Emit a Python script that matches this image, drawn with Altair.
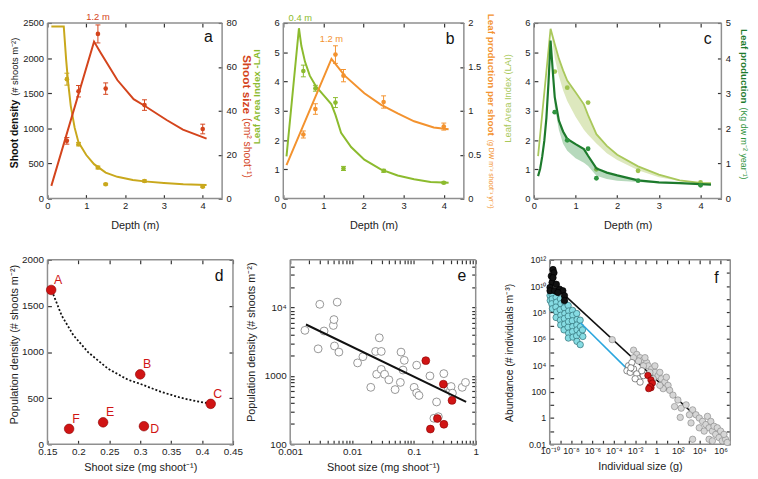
import altair as alt
import pandas as pd

FONT = "Liberation Sans"
ONE = pd.DataFrame({"k": [0]})

# ---------------- colours ----------------
GOLD = "#C9A81C"
RUST = "#D4441C"
LIME = "#8CBB2E"
ORANGE = "#F3922E"
PALE = "#A9C85B"
DKGREEN = "#1D7A2C"
PTGREEN = "#2F9440"
RED = "#D01414"
FRAME = "#8F8F8F"

# ---------------- panel a ----------------
A_DEPTH = [0.5, 0.8, 1.3, 1.5, 2.5, 4.0]
A_DENSITY = [1700, 775, 442, 205, 250, 170]
A_DENSITY_ERR = [85, 25, 20, 12, 15, 10]
A_SIZE = [26.3, 48.9, 75.0, 50.1, 42.6, 31.7]
A_SIZE_ERR = [1.5, 2.6, 4.1, 2.6, 2.4, 2.2]
A_DLINE_X = [0.1, 0.42, 0.48, 0.53, 0.6, 0.7, 0.8, 1.0, 1.2, 1.5, 1.8, 2.2, 2.5, 3.0, 3.5, 4.1]
A_DLINE_Y = [2450, 2450, 1985, 1665, 1320, 1010, 800, 620, 490, 370, 310, 265, 245, 222, 205, 195]
A_SLINE_X = [0.1, 1.2, 1.37, 1.8, 2.22, 2.5, 3.07, 3.49, 4.1]
A_SLINE_Y = [5.8, 71.5, 66.4, 54.0, 45.3, 42.3, 35.8, 31.4, 27.3]

# ---------------- panel b ----------------
B_LAI = [4.36, 3.77, 3.28, 1.03, 0.95, 0.54]
B_LAI_ERR = [0.2, 0.1, 0.17, 0.07, 0.05, 0.03]
B_PROD = [0.73, 1.02, 1.64, 1.40, 1.10, 0.82]
B_PROD_ERR = [0.04, 0.06, 0.1, 0.07, 0.07, 0.04]
B_LLINE_X = [0.08, 0.39, 0.45, 0.54, 0.66, 0.82, 1.03, 1.2, 1.3, 1.44, 1.69, 2.02, 2.43, 2.85, 3.26, 3.67, 4.12]
B_LLINE_Y = [1.44, 5.82, 5.22, 4.68, 4.2, 3.82, 3.49, 3.22, 2.86, 2.25, 1.76, 1.33, 1.0, 0.79, 0.66, 0.57, 0.54]
B_PLINE_X = [0.08, 1.2, 1.53, 2.02, 2.43, 2.85, 3.26, 3.75, 4.12]
B_PLINE_Y = [0.38, 1.59, 1.40, 1.2, 1.07, 0.97, 0.88, 0.81, 0.79]

# ---------------- panel c ----------------
C_LAI = [4.34, 3.79, 3.28, 1.0, 0.95, 0.55]
C_PROD = [2.46, 1.66, 1.42, 0.58, 0.51, 0.38]
C_LLINE_X = [0.1, 0.4, 0.5, 0.6, 0.7, 0.8, 1.0, 1.2, 1.3, 1.5, 1.75, 2.0, 2.5, 3.0, 3.5, 4.0, 4.25]
C_LLINE_Y = [1.45, 5.8, 5.28, 4.78, 4.38, 4.03, 3.63, 3.22, 2.85, 2.2, 1.8, 1.5, 1.1, 0.82, 0.62, 0.54, 0.53]
C_LAREA_X = [0.4, 0.5, 0.6, 0.7, 0.8, 1.0, 1.2, 1.3, 1.5, 1.75, 2.0, 2.5, 3.0, 3.5, 4.0, 4.25]
C_LAREA_TOP = [5.8, 5.28, 4.78, 4.38, 4.03, 3.63, 3.22, 2.85, 2.2, 1.8, 1.5, 1.1, 0.82, 0.62, 0.54, 0.53]
C_LAREA_BOT = [5.8, 4.8, 4.18, 3.7, 3.33, 2.8, 2.35, 2.18, 1.88, 1.55, 1.32, 0.97, 0.73, 0.6, 0.52, 0.51]
C_DLINE_X = [0.1, 0.15, 0.2, 0.25, 0.3, 0.35, 0.4, 0.46, 0.5, 0.6, 0.7, 0.8, 1.0, 1.2, 1.3, 1.5, 1.75, 2.0, 2.5, 3.0, 3.5, 4.0, 4.25]
C_DLINE_Y = [0.64, 0.85, 1.2, 1.65, 2.3, 3.3, 4.5, 3.51, 2.89, 2.22, 1.91, 1.7, 1.55, 1.41, 1.22, 0.86, 0.74, 0.66, 0.52, 0.46, 0.44, 0.41, 0.40]
C_DAREA_X = [0.4, 0.46, 0.5, 0.6, 0.7, 0.8, 1.0, 1.2, 1.3, 1.5, 1.75, 2.0, 2.5, 3.0, 3.5, 4.0, 4.25]
C_DAREA_TOP = [4.5, 3.51, 2.89, 2.22, 1.91, 1.7, 1.55, 1.41, 1.22, 0.86, 0.74, 0.66, 0.52, 0.46, 0.44, 0.41, 0.40]
C_DAREA_BOT = [4.5, 3.34, 2.62, 1.95, 1.56, 1.36, 1.15, 1.02, 0.93, 0.65, 0.56, 0.51, 0.47, 0.44, 0.43, 0.41, 0.40]

# ---------------- panel d ----------------
D_LABEL = ["A", "B", "C", "D", "E", "F"]
D_SIZE = [0.156, 0.300, 0.414, 0.306, 0.240, 0.185]
D_DENSITY = [1673, 758, 438, 196, 238, 167]
D_CURVE_X = [0.157, 0.173, 0.192, 0.216, 0.248, 0.28, 0.30, 0.333, 0.365, 0.392, 0.414]
D_CURVE_Y = [1665, 1395, 1181, 996, 819, 700, 655, 570, 505, 465, 440]

# ---------------- panel e ----------------
E_OPEN_X = [0.00173, 0.00301, 0.00353, 0.00283, 0.00498, 0.0051, 0.00576, 0.0052, 0.00613,
            0.0123, 0.015, 0.0201, 0.0241, 0.0276, 0.0297, 0.025, 0.0297, 0.0336, 0.0394,
            0.0497, 0.0605, 0.062, 0.0668, 0.070, 0.101, 0.111, 0.111, 0.121, 0.182,
            0.233, 0.211, 0.249, 0.305, 0.357, 0.39, 0.40, 0.42, 0.605, 0.684]
E_OPEN_Y = [4640, 11160, 4540, 2490, 5470, 6670, 12000, 2740, 2230,
            1550, 1910, 681, 2280, 3610, 2280, 1057, 1245, 1057, 877,
            631, 803, 2230, 1220, 1690, 681, 1435, 565, 518, 1000,
            416, 240, 253, 1080, 681, 611, 700, 560, 681, 803]
E_FIT_X = [0.0018, 0.70]
E_FIT_Y = [5650, 416]

# ---------------- panel f (log10 values) ----------------
F_CYAN_LOGX = [-9.97, -9.95, -9.8, -9.76, -9.8, -9.74, -9.4, -9.36, -9.42, -9.35, -9.4,
               -9.0, -8.95, -9.02, -8.96, -9.0, -8.97, -8.6, -8.64, -8.58, -8.63, -8.6, -8.66,
               -8.27, -8.22, -8.26, -8.24, -8.28, -8.23, -8.25, -7.86, -7.83, -7.88, -7.84,
               -7.86, -7.82, -7.47, -7.43, -7.46, -7.44, -7.48, -7.45, -7.15, -7.12, -7.16,
               -7.14, -6.93, -6.9]
F_CYAN_LOGY = [9.28, 8.91, 9.4, 9.03, 8.66, 8.29, 9.15, 8.78, 8.41, 8.04, 7.62,
               9.03, 8.66, 8.21, 7.79, 7.42, 7.05, 8.78, 8.36, 7.92, 7.54, 7.12, 6.68,
               8.53, 8.11, 7.72, 7.3, 6.88, 6.43, 6.06, 8.16, 7.79, 7.37, 6.93,
               6.55, 6.13, 7.92, 7.47, 7.05, 6.68, 6.23, 5.81, 7.42, 6.93, 6.43,
               5.56, 6.68, 6.18]
F_BLACK_LOGX = [-9.69, -9.85, -9.78, -9.97, -9.97, -9.54, -9.08, -8.77, -8.62, -8.62, -9.38,
                -9.6, -9.69, -9.23]
F_BLACK_LOGY = [11.26, 10.76, 10.27, 9.9, 9.65, 9.65, 9.77, 9.65, 9.28, 8.91, 10.14,
                11.01, 10.64, 9.52]
F_GRAY_LOGX = [-4.15, -2.15, -1.85, -1.54, -1.23, -0.92, -0.77, -0.46, -0.15, 0.15, 0.46,
               0.77, 1.08, 0.62, 1.23, 0.31, -0.31, -0.62, -1.23, -1.69, -2.15, -0.15,
               -1.08, 0.31, 0.92, 1.54, 2.0, 1.69, 2.31, 2.77, 3.38, 3.08, 2.22, 3.23,
               3.69, 4.0, 4.31, 4.62, 4.92, 5.23, 5.54, 5.85, 6.15, 6.46, 4.77, 5.08,
               5.38, 5.69, 4.0, 4.46, 3.38, 4.92, 6.0, 6.31, 5.23, 6.62]
F_GRAY_LOGY = [5.94, 5.14, 4.82, 4.57, 4.4, 4.2, 3.95, 3.71, 3.46, 3.21, 2.97,
               2.72, 2.47, 2.22, 2.1, 2.47, 2.97, 3.46, 3.95, 4.32, 4.57, 3.95,
               4.57, 3.46, 3.09, 1.73, 1.36, 0.86, 0.74, 0.99, 0.61, 0.24, 0.04, -0.38,
               0.24, -0.01, -0.26, -0.5, -0.75, -1.0, -1.25, -1.49, -1.74, -1.62, 0.12, -0.26,
               -0.63, -0.75, -0.75, -1.0, -1.62, -1.62, -1.0, -1.25, -1.74, -1.86]
F_WHITE_LOGX = [-2.62, -2.31, -2.77, -2.46, -2.15, -1.85, -1.69, -2.0, -1.54, -1.23, -1.38, -2.4]
F_WHITE_LOGY = [3.96, 4.2, 3.58, 3.46, 3.71, 3.34, 2.97, 2.97, 2.72, 3.21, 3.58, 3.8]
F_BLACK_FIT_LOGX = [-9.2, 6.0]
F_BLACK_FIT_LOGY = [9.75, -1.6]
F_CYAN_FIT_LOGX = [-7.1, -2.85]
F_CYAN_FIT_LOGY = [7.2, 3.8]

# ---------------- tick labels ----------------
F_X_LABELS = {-10: "10⁻¹⁰", -8: "10⁻⁸", -6: "10⁻⁶", -4: "10⁻⁴", -2: "10⁻²", 0: "1", 2: "10²", 4: "10⁴", 6: "10⁶"}
F_Y_LABELS = {-2: "0.01", 0: "1", 2: "100", 4: "10⁴", 6: "10⁶", 8: "10⁸", 10: "10¹⁰", 12: "10¹²"}
E_X_LABELS = {-3: "0.001", -2: "0.01", -1: "0.1", 0: "1"}
E_Y_LABELS = {2: "100", 3: "1000", 4: "10⁴"}

W_A, W_B, W_C = 177, 183, 190
W_D, W_E, W_F = 188, 188, 183
H1, H2 = 178, 187


def axis(orient, values, title=None, labels=True, lp=3, tp=10, expr=None, fmt=None, size=9.5):
    kw = dict(orient=orient, values=values, labels=labels, ticks=True, tickSize=4, tickWidth=1.2,
              tickColor="#333333", offset=-4, domain=False, grid=False, labelPadding=lp,
              labelFontSize=size)
    if title:
        kw["title"] = title
        kw["titlePadding"] = tp
    else:
        kw["title"] = None
    if expr:
        kw["labelExpr"] = expr
    if fmt:
        kw["format"] = fmt
    return alt.Axis(**kw)


def dec_expr(mapping):
    e = "round(log(datum.value)/LN10)"
    isdec = "abs(log(datum.value)/LN10 - round(log(datum.value)/LN10)) < 0.01"
    expr = "''"
    for k, v in mapping.items():
        expr = f"({e} == {k} ? '{v}' : {expr})"
    return f"({isdec}) ? {expr} : ''"


def txt(text, x, y, size, color, angle=0, align="center", weight="normal"):
    return alt.Chart(ONE).mark_text(text=text, font=FONT, fontSize=size, color=color, angle=angle,
                                    align=align, baseline="middle", fontWeight=weight).encode(
        x=alt.value(x), y=alt.value(y))


def box(xscale, yscale):
    """Grey box along the ends of the two scale domains (four rules through the scales)."""
    (x0, x1), (y0, y1) = xscale.domain, yscale.domain
    df = pd.DataFrame({"fx": [x0, x0, x0, x1], "fx2": [x1, x1, x0, x1],
                       "fy": [y0, y1, y0, y0], "fy2": [y0, y1, y1, y1]})
    return alt.Chart(df).mark_rule(color=FRAME, strokeWidth=1.5).encode(
        x=alt.X("fx:Q", scale=xscale, axis=None), x2=alt.X2("fx2"),
        y=alt.Y("fy:Q", scale=yscale, axis=None), y2=alt.Y2("fy2"))


DEPTH_SCALE = dict(domain=[0, 4.5], nice=False, zero=False)


def xd(ax):
    return alt.X("x:Q", scale=alt.Scale(**DEPTH_SCALE), axis=ax)


def ylin(dom):
    def f(field, ax):
        return alt.Y(f"{field}:Q", scale=alt.Scale(domain=dom, nice=False, zero=False), axis=ax)
    return f


def series(lx, ly, px, py, perr, yfn, color, yaxis, xaxis=None, lw=2.0, psize=22):
    line_df = pd.DataFrame({"x": lx, "v": ly})
    pts = pd.DataFrame({"x": px, "v": py})
    layers = [alt.Chart(line_df).mark_line(color=color, strokeWidth=lw).encode(
        x=xd(xaxis), y=yfn("v", yaxis))]
    if perr:
        pts["lo"] = [a - b for a, b in zip(py, perr)]
        pts["hi"] = [a + b for a, b in zip(py, perr)]
        layers.append(alt.Chart(pts).mark_rule(color=color, strokeWidth=1).encode(
            x=xd(None), y=yfn("lo", None), y2=alt.Y2("hi")))
        for c in ("lo", "hi"):
            layers.append(alt.Chart(pts).mark_tick(color=color, orient="horizontal", size=5,
                                                   thickness=1, opacity=1).encode(
                x=xd(None), y=yfn(c, None)))
    layers.append(alt.Chart(pts).mark_circle(color=color, size=psize, opacity=1).encode(
        x=xd(None), y=yfn("v", None)))
    return layers


def split_title(bold, normal, x, j, bsize, nsize, bcol, ncol, angle):
    """Bold first part then normal part, read along the axis, meeting near j."""
    if angle == 270:   # reads bottom -> top: bold below junction
        return [txt(bold, x, j + 2, bsize, bcol, angle=270, align="right", weight="bold"),
                txt(normal, x, j - 2, nsize, ncol, angle=270, align="left")]
    return [txt(bold, x, j - 2, bsize, bcol, angle=90, align="right", weight="bold"),
            txt(normal, x, j + 2, nsize, ncol, angle=90, align="left")]


DEPTH_TICKS = [0, 1, 2, 3, 4]


def top_depth():
    return alt.Chart(pd.DataFrame({"x": [1.0]})).mark_point(opacity=0).encode(
        x=xd(axis("top", DEPTH_TICKS, labels=False)), y=alt.value(0))


def depth_box(ydom):
    return box(alt.Scale(**DEPTH_SCALE), alt.Scale(domain=ydom, nice=False, zero=False))


# ---------------- build panel a ----------------
ya_l = ylin([0, 2500])
ya_r = ylin([0, 80])
a_left = series(A_DLINE_X, A_DLINE_Y, A_DEPTH, A_DENSITY, A_DENSITY_ERR, ya_l, GOLD,
                axis("left", [0, 500, 1000, 1500, 2000, 2500], lp=4, fmt="d"),
                xaxis=axis("bottom", DEPTH_TICKS, "Depth (m)", lp=2, tp=10))
a_right = series(A_SLINE_X, A_SLINE_Y, A_DEPTH, A_SIZE, A_SIZE_ERR, ya_r, RUST,
                 axis("right", [0, 20, 40, 60, 80], lp=4))
a_note = alt.Chart(pd.DataFrame({"x": [1.2]})).mark_text(
    text="1.2 m", font=FONT, fontSize=9.5, color=RUST, dx=4, baseline="middle").encode(
    x=xd(None), y=alt.value(-6))
panel_a = alt.layer(
    depth_box([0, 2500]), *a_left, *a_right, top_depth(), a_note,
    *split_title("Shoot density", "(# shoots m⁻²)", -32.5, 0.426 * H1, 10.5, 9.5, "#111", "#111", 270),
    *split_title("Shoot size", "(cm² shoot⁻¹)", W_A + 25, 0.53 * H1, 12, 10.5, RUST, RUST, 90),
    txt("a", W_A - 14, 14, 16, "#111"),
).resolve_scale(y="independent").properties(width=W_A, height=H1)

# ---------------- build panel b ----------------
yb_l = ylin([0, 6])
yb_r = ylin([0, 2])
b_left = series(B_LLINE_X, B_LLINE_Y, A_DEPTH, B_LAI, B_LAI_ERR, yb_l, LIME,
                axis("left", [0, 1, 2, 3, 4, 5, 6], lp=4),
                xaxis=axis("bottom", DEPTH_TICKS, "Depth (m)", lp=2, tp=10))
b_right = series(B_PLINE_X, B_PLINE_Y, A_DEPTH, B_PROD, B_PROD_ERR, yb_r, ORANGE,
                 axis("right", [0, 0.5, 1, 1.5, 2], lp=4, fmt="~g"))
b_note1 = alt.Chart(pd.DataFrame({"x": [0.4]})).mark_text(
    text="0.4 m", font=FONT, fontSize=9.5, color=LIME, dx=1, baseline="middle").encode(
    x=xd(None), y=alt.value(-5))
b_note2 = alt.Chart(pd.DataFrame({"x": [1.2]})).mark_text(
    text="1.2 m", font=FONT, fontSize=9.5, color=ORANGE, baseline="middle").encode(
    x=xd(None), y=alt.value(16))
panel_b = alt.layer(
    depth_box([0, 6]), *b_left, *b_right, top_depth(), b_note1, b_note2,
    txt("Leaf Area Index -LAI", -27, 0.42 * H1, 10, LIME, angle=270, weight="bold"),
    *split_title("Leaf production per shoot", "(g DW m⁻² shoot⁻¹ yr⁻¹)", W_B + 27, 0.654 * H1,
                 10, 7, ORANGE, ORANGE, 90),
    txt("b", W_B - 14, 16, 16, "#111"),
).resolve_scale(y="independent").properties(width=W_B, height=H1)

# ---------------- build panel c ----------------
yc_l = ylin([0, 6])
yc_r = ylin([0, 5])


def c_group(ax_, bx, btop, bbot, lx, ly, py, yfn, fill, fop, lcol, pcol, yaxis, xaxis=None, lw=2.0):
    area = alt.Chart(pd.DataFrame({"x": ax_, "t": btop, "b": bbot})).mark_area(
        color=fill, opacity=fop).encode(x=xd(xaxis), y=yfn("t", yaxis), y2=alt.Y2("b"))
    line = alt.Chart(pd.DataFrame({"x": lx, "v": ly})).mark_line(color=lcol, strokeWidth=lw).encode(
        x=xd(None), y=yfn("v", None))
    pts = alt.Chart(pd.DataFrame({"x": bx, "v": py})).mark_circle(color=pcol, size=24, opacity=1).encode(
        x=xd(None), y=yfn("v", None))
    return [area, line, pts]


c_left = c_group(C_LAREA_X, A_DEPTH, C_LAREA_TOP, C_LAREA_BOT, C_LLINE_X, C_LLINE_Y, C_LAI, yc_l,
                 "#B4CC6E", 0.45, PALE, "#9DC24E", axis("left", [0, 1, 2, 3, 4, 5, 6], lp=4),
                 xaxis=axis("bottom", DEPTH_TICKS, "Depth (m)", lp=2, tp=10), lw=1.8)
c_right = c_group(C_DAREA_X, A_DEPTH, C_DAREA_TOP, C_DAREA_BOT, C_DLINE_X, C_DLINE_Y, C_PROD, yc_r,
                  "#3F9A4E", 0.38, DKGREEN, PTGREEN, axis("right", [0, 1, 2, 3, 4, 5], lp=4), lw=2.2)
panel_c = alt.layer(
    depth_box([0, 6]), *c_left, *c_right, top_depth(),
    txt("Leaf Area Index (LAI)", -26, 0.43 * H1, 9.5, PALE, angle=270),
    *split_title("Leaf production", "(Kg dw m⁻² year⁻¹)", W_C + 23, 0.47 * H1, 10, 9,
                 DKGREEN, PTGREEN, 90),
    txt("c", W_C - 14, 16, 16, "#111"),
).resolve_scale(y="independent").properties(width=W_C, height=H1)

# ---------------- build panel d ----------------
D_XT = [0.15, 0.2, 0.25, 0.3, 0.35, 0.4, 0.45]
D_YT = [0, 500, 1000, 1500, 2000]
D_XS = alt.Scale(domain=[0.15, 0.45], nice=False, zero=False)
D_YS = alt.Scale(domain=[0, 2000], nice=False)
xdd = lambda ax: alt.X("x:Q", scale=D_XS, axis=ax)
ydd = lambda f, ax: alt.Y(f"{f}:Q", scale=D_YS, axis=ax)
dfd = pd.DataFrame({"x": D_SIZE, "v": D_DENSITY, "lab": D_LABEL})
panel_d = alt.layer(
    box(D_XS, D_YS),
    alt.Chart(pd.DataFrame({"x": D_CURVE_X, "v": D_CURVE_Y})).mark_line(
        color="#111", strokeWidth=1.8, strokeDash=[2, 2]).encode(x=xdd(None), y=ydd("v", None)),
    alt.Chart(dfd).mark_circle(fill=RED, stroke="#8a0000", strokeWidth=0.6, size=95, opacity=1).encode(
        x=xdd(axis("bottom", D_XT, "Shoot size (mg shoot⁻¹)", lp=2, tp=6, fmt="~g", size=10)),
        y=ydd("v", axis("left", D_YT, lp=4, size=10, fmt="d"))),
    alt.Chart(dfd).transform_filter(alt.datum.lab != "D").mark_text(
        font=FONT, fontSize=12.5, color=RED, dx=7, dy=-10).encode(x=xdd(None), y=ydd("v", None), text="lab:N"),
    alt.Chart(dfd).transform_filter(alt.datum.lab == "D").mark_text(
        font=FONT, fontSize=12.5, color=RED, dx=11, dy=3).encode(x=xdd(None), y=ydd("v", None), text="lab:N"),
    alt.Chart(pd.DataFrame({"x": [0.3], "v": [1000]})).mark_point(opacity=0).encode(
        x=xdd(axis("top", D_XT, labels=False)), y=ydd("v", axis("right", D_YT, labels=False))),
    txt("Population density (# shoots m⁻²)", -32.75, 0.46 * H2, 11, "#222", angle=270),
    txt("d", W_D - 14, 17, 16, "#111"),
).properties(width=W_D, height=H2)

# ---------------- build panel e ----------------
E_XT = [m * 10.0 ** k for k in (-3, -2, -1) for m in range(1, 10)] + [1.0]
E_YT = [m * 10.0 ** k for k in (2, 3) for m in range(1, 10)] + [10000.0, 20000.0, 30000.0, 40000.0]
E_XS = alt.Scale(type="log", domain=[0.001, 1], nice=False)
E_YS = alt.Scale(type="log", domain=[100, 50000], nice=False)
xe = lambda ax: alt.X("x:Q", scale=E_XS, axis=ax)
ye = lambda ax: alt.Y("v:Q", scale=E_YS, axis=ax)
panel_e = alt.layer(
    box(E_XS, E_YS),
    alt.Chart(pd.DataFrame({"x": E_OPEN_X, "v": E_OPEN_Y})).mark_circle(
        fill="white", stroke="#8a8a8a", strokeWidth=0.9, size=64, opacity=1).encode(
        x=xe(axis("bottom", E_XT, "Shoot size (mg shoot⁻¹)", lp=2, tp=6, expr=dec_expr(E_X_LABELS), size=10)),
        y=ye(axis("left", E_YT, lp=4, expr=dec_expr(E_Y_LABELS), size=10))),
    alt.Chart(pd.DataFrame({"x": E_FIT_X, "v": E_FIT_Y})).mark_line(color="#111", strokeWidth=2).encode(
        x=xe(None), y=ye(None)),
    alt.Chart(dfd).mark_circle(fill=RED, stroke="#8a0000", strokeWidth=0.6, size=64, opacity=1).encode(
        x=xe(None), y=ye(None)),
    alt.Chart(pd.DataFrame({"x": [0.1], "v": [1000]})).mark_point(opacity=0).encode(
        x=xe(axis("top", E_XT, labels=False)), y=ye(axis("right", E_YT, labels=False))),
    txt("Population density (# shoots m⁻²)", -39, 0.447 * H2, 11, "#222", angle=270),
    txt("e", W_E - 14, 17, 16, "#111"),
).properties(width=W_E, height=H2)

# ---------------- build panel f ----------------
F_XT = [10.0 ** k for k in range(-10, 7)]
F_YT = [10.0 ** k for k in range(-2, 13)]
F_XS = alt.Scale(type="log", domain=[1e-10, 8e6], nice=False)
F_YS = alt.Scale(type="log", domain=[0.01, 1e12], nice=False)
xf = lambda ax: alt.X("x:Q", scale=F_XS, axis=ax)
yf = lambda ax: alt.Y("v:Q", scale=F_YS, axis=ax)


def fdf(lx, ly):
    return pd.DataFrame({"x": [10.0 ** v for v in lx], "v": [10.0 ** v for v in ly]})


def fpts(df, fill, stroke, size=42, sw=0.7):
    return alt.Chart(df).mark_circle(fill=fill, stroke=stroke, strokeWidth=sw, size=size, opacity=1).encode(
        x=xf(None), y=yf(None))


panel_f = alt.layer(
    box(F_XS, F_YS),
    alt.Chart(fdf(F_CYAN_LOGX, F_CYAN_LOGY)).mark_circle(
        fill="#86DCE3", stroke="#2E6E74", strokeWidth=0.7, size=42, opacity=1).encode(
        x=xf(axis("bottom", F_XT, "Individual size (g)", lp=2, tp=6, expr=dec_expr(F_X_LABELS), size=9)),
        y=yf(axis("left", F_YT, lp=4, expr=dec_expr(F_Y_LABELS), size=9))),
    alt.Chart(fdf(F_BLACK_FIT_LOGX, F_BLACK_FIT_LOGY)).mark_line(color="#111", strokeWidth=1.6).encode(
        x=xf(None), y=yf(None)),
    alt.Chart(fdf(F_CYAN_FIT_LOGX, F_CYAN_FIT_LOGY)).mark_line(color="#2AA6DE", strokeWidth=1.6).encode(
        x=xf(None), y=yf(None)),
    fpts(fdf(F_GRAY_LOGX, F_GRAY_LOGY), "#D6D6D6", "#8E8E8E"),
    fpts(fdf(F_WHITE_LOGX, F_WHITE_LOGY), "white", "#555555"),
    alt.Chart(dfd).mark_circle(fill=RED, stroke="#7a0000", strokeWidth=0.6, size=42, opacity=1).encode(
        x=xf(None), y=yf(None)),
    fpts(fdf(F_BLACK_LOGX, F_BLACK_LOGY), "#111111", "#000000"),
    alt.Chart(pd.DataFrame({"x": [1.0], "v": [1.0]})).mark_point(opacity=0).encode(
        x=xf(axis("top", F_XT, labels=False)), y=yf(axis("right", F_YT, labels=False))),
    txt("Abundance (# individuals m⁻³)", -40, 0.505 * H2, 10.5, "#222", angle=270),
    txt("f", W_F - 14, 19, 16, "#111"),
).properties(width=W_F, height=H2)


def spacer(w, h):
    return alt.Chart(ONE).mark_point(opacity=0).encode(x=alt.value(0), y=alt.value(0)).properties(
        width=w, height=h)


row1 = alt.hconcat(panel_a, spacer(62, H1), panel_b, spacer(71, H1), panel_c, spacing=0, bounds="flush")
row2 = alt.hconcat(panel_d, spacer(58, H2), panel_e, spacer(75, H2), panel_f, spacing=0, bounds="flush")

chart = alt.vconcat(row1, row2, spacing=23).properties(padding=0).configure(font=FONT).configure_axis(
    labelFont=FONT, titleFont=FONT, labelColor="#222", labelFlush=False,
    labelOverlap=False, titleFontWeight="normal", titleColor="#222", titleFontSize=11
).configure_view(stroke="transparent")

chart.save("out.html", embed_options={"renderer": "svg", "actions": False})
